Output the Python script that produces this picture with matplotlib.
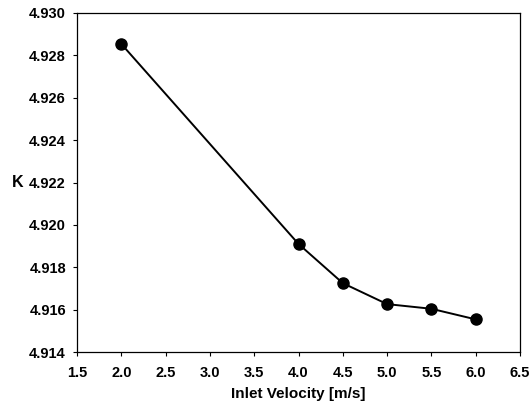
import matplotlib
matplotlib.use("Agg")
import matplotlib.pyplot as plt

# Données
velocity = [2.0, 4.0, 4.5, 5.0, 5.5, 6.0]
k_values = [4.92854, 4.91910, 4.91725, 4.91626, 4.91604, 4.91554]

x_ticks = [1.5, 2.0, 2.5, 3.0, 3.5, 4.0, 4.5, 5.0, 5.5, 6.0, 6.5]
y_ticks = [4.914, 4.916, 4.918, 4.920, 4.922, 4.924, 4.926, 4.928, 4.930]

plt.rcParams['font.family'] = ['Liberation Sans', 'DejaVu Sans']
plt.rcParams['font.weight'] = 'bold'

fig = plt.figure(figsize=(5.31, 4.08), dpi=100)
ax = fig.add_axes([77 / 531, 1 - 352 / 408, 443 / 531, 339 / 408])

ax.plot(velocity, k_values, color='black', linewidth=1.4,
        marker='o', markersize=8, markerfacecolor='black', markeredgecolor='black')

ax.set_xlim(1.5, 6.5)
ax.set_ylim(4.914, 4.930)
ax.set_xticks(x_ticks)
ax.set_yticks(y_ticks)
ax.set_xticklabels([f"{v:.1f}" for v in x_ticks], fontsize=10.5, fontweight='bold')
ax.set_yticklabels([f"{v:.3f}" for v in y_ticks], fontsize=10.5, fontweight='bold')
ax.tick_params(direction='out', length=3, width=0.8, colors='black')
ax.tick_params(axis='x', pad=7)
ax.tick_params(axis='y', pad=5)

for side in ['left', 'bottom', 'right', 'top']:
    ax.spines[side].set_linewidth(0.9)
    ax.spines[side].set_color('black')

ax.set_xlabel("Inlet Velocity [m/s]", fontsize=11, fontweight='bold', labelpad=5)
fig.text(18 / 531, 1 - 183 / 408, "K", fontsize=11.5, fontweight='bold',
         ha='center', va='center')

fig.savefig("out.png", dpi=100)
